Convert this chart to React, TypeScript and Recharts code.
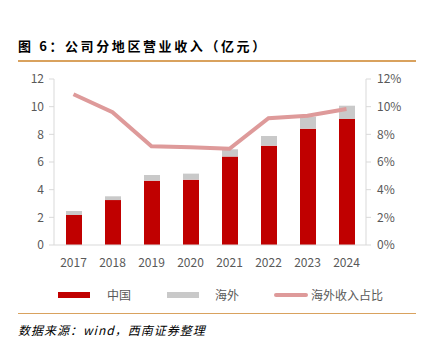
import React from 'react';
import { ComposedChart, Bar, Line, XAxis, YAxis } from 'recharts';

const years = ['2017', '2018', '2019', '2020', '2021', '2022', '2023', '2024'];
const china = [2.17, 3.25, 4.65, 4.72, 6.39, 7.18, 8.41, 9.11];
const overseas = [0.29, 0.27, 0.41, 0.44, 0.53, 0.70, 0.87, 0.96];
const overseasShare = [10.9, 9.6, 7.14, 7.06, 6.96, 9.16, 9.35, 9.83];
const leftTicks = [0, 2, 4, 6, 8, 10, 12];
const rightTicks = [0, 2, 4, 6, 8, 10, 12];

const data = years.map((y, i) => ({
  year: y,
  china: china[i],
  overseas: overseas[i],
  share: overseasShare[i],
}));

const FONT = '"Noto Sans CJK SC", "Noto Sans", sans-serif';
const TEXT = '#595959';
const RED = '#C00000';
const GRAY = '#C9C9C9';
const PINK = '#DE9A9A';
const ORANGE = '#D9A25E';
const AXIS = '#D9D9D9';

export default function App() {
  return (
    <div style={{ position: 'absolute', left: 0, top: 0, width: 430, height: 347, background: '#fff', fontFamily: FONT, overflow: 'hidden' }}>
      <div style={{ position: 'absolute', left: 18, top: 36, fontSize: 13, fontWeight: 'bold', letterSpacing: '2.6px', color: '#000', whiteSpace: 'nowrap', lineHeight: '20px' }}>
        图 6：公司分地区营业收入（亿元）
      </div>
      <div style={{ position: 'absolute', left: 18, top: 60, width: 398, height: 2, background: ORANGE }} />
      <div style={{ position: 'absolute', left: 0, top: 0 }}>
        <ComposedChart width={430} height={270} data={data} margin={{ top: 79, right: 0, left: 0, bottom: 5 }}>
          <XAxis dataKey="year" axisLine={{ stroke: AXIS }} tickLine={false} tick={{ fill: TEXT, fontSize: 12, fontFamily: FONT }} tickMargin={7} height={20} />
          <YAxis yAxisId="l" orientation="left" width={54} domain={[0, 12]} ticks={leftTicks} axisLine={{ stroke: AXIS }} tickLine={{ stroke: AXIS }} tickSize={5} tickMargin={5} tick={{ fill: TEXT, fontSize: 12, fontFamily: FONT }} />
          <YAxis yAxisId="r" orientation="right" width={64} domain={[0, 12]} ticks={rightTicks} tickFormatter={(v: number) => `${v}%`} axisLine={{ stroke: AXIS }} tickLine={{ stroke: AXIS }} tickSize={5} tickMargin={6} tick={{ fill: TEXT, fontSize: 12, fontFamily: FONT }} />
          <Bar yAxisId="l" dataKey="china" stackId="a" fill={RED} barSize={16} isAnimationActive={false} />
          <Bar yAxisId="l" dataKey="overseas" stackId="a" fill={GRAY} barSize={16} isAnimationActive={false} />
          <Line yAxisId="r" dataKey="share" stroke={PINK} strokeWidth={4} dot={false} type="linear" isAnimationActive={false} />
        </ComposedChart>
      </div>
      <div style={{ position: 'absolute', left: 58, top: 292, width: 32, height: 6, background: RED }} />
      <div style={{ position: 'absolute', left: 107, top: 286, fontSize: 12, color: TEXT, lineHeight: '18px' }}>中国</div>
      <div style={{ position: 'absolute', left: 167, top: 292, width: 32, height: 6, background: GRAY }} />
      <div style={{ position: 'absolute', left: 215, top: 286, fontSize: 12, color: TEXT, lineHeight: '18px' }}>海外</div>
      <div style={{ position: 'absolute', left: 274, top: 293, width: 34, height: 4, borderRadius: 2, background: PINK }} />
      <div style={{ position: 'absolute', left: 311, top: 286, fontSize: 12, color: TEXT, lineHeight: '18px' }}>海外收入占比</div>
      <div style={{ position: 'absolute', left: 18, top: 313, width: 398, height: 1, background: ORANGE }} />
      <div style={{ position: 'absolute', left: 18, top: 321, fontSize: 12, fontStyle: 'italic', color: '#000', lineHeight: '18px', whiteSpace: 'nowrap', letterSpacing: '1px' }}>
        数据来源：wind，西南证券整理
      </div>
    </div>
  );
}
